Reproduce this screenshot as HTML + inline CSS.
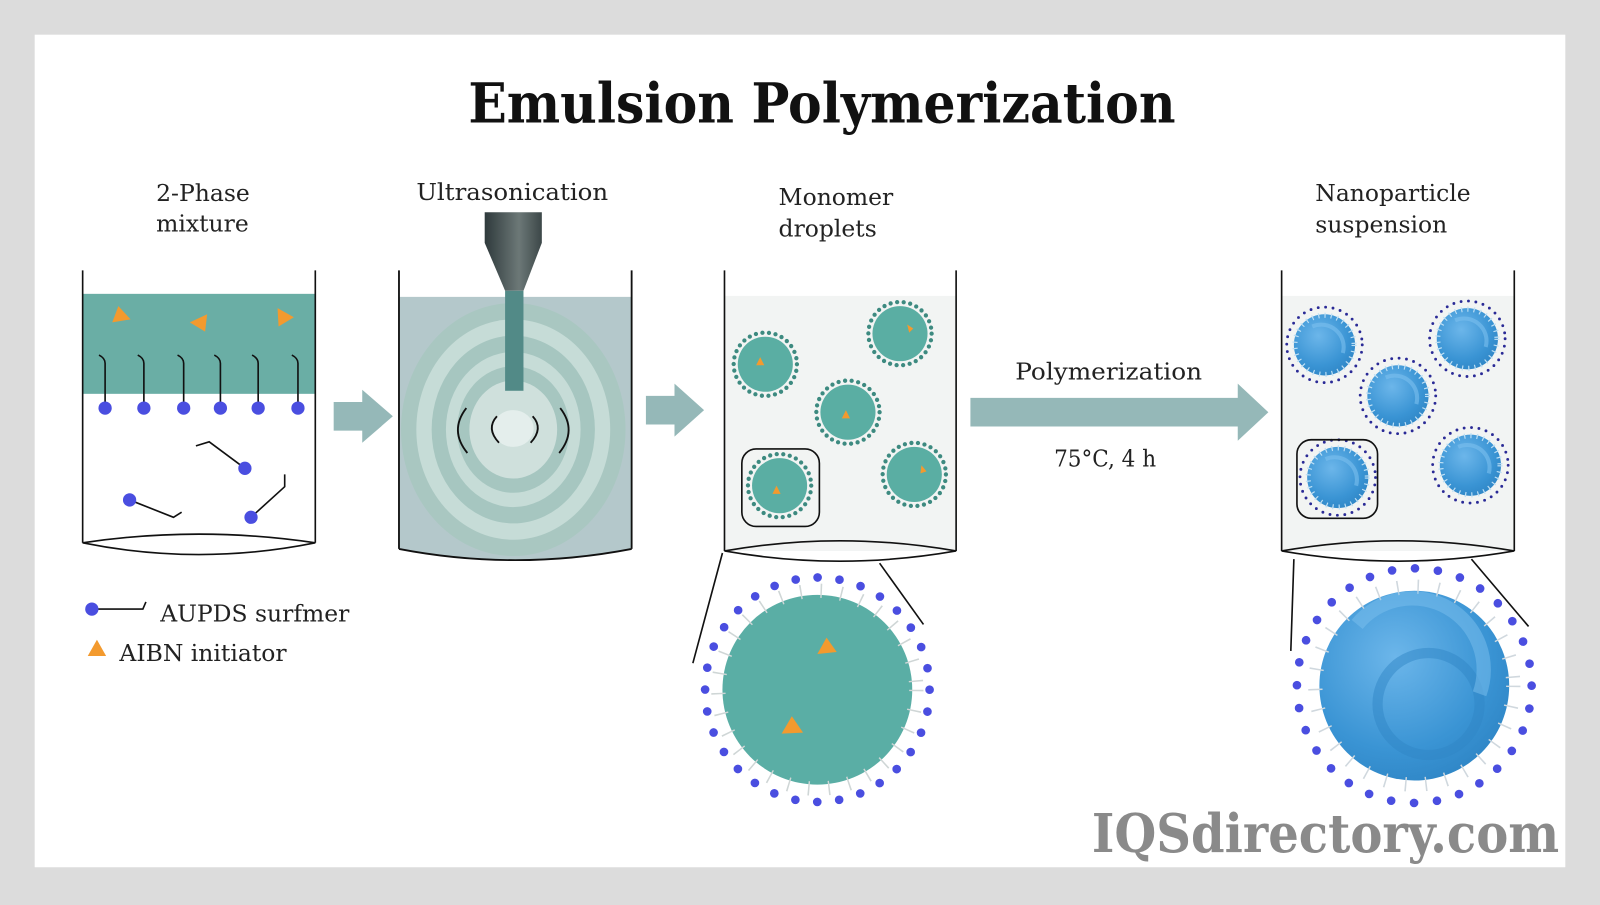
<!DOCTYPE html>
<html><head><meta charset="utf-8"><style>
html,body{margin:0;padding:0;background:#dcdcdc}
svg{display:block}
text{font-family:"DejaVu Serif","Liberation Serif",serif}
</style></head><body>
<svg width="1600" height="905" viewBox="0 0 1568 887" preserveAspectRatio="none" xmlns="http://www.w3.org/2000/svg">
<defs>
<linearGradient id="probe" x1="0" x2="1"><stop offset="0" stop-color="#2f3a3c"/><stop offset="0.6" stop-color="#6c7877"/><stop offset="1" stop-color="#3c4748"/></linearGradient>
<radialGradient id="blue" cx="0.4" cy="0.35" r="0.7"><stop offset="0" stop-color="#6cb6ea"/><stop offset="0.7" stop-color="#3a94d4"/><stop offset="1" stop-color="#2f86c6"/></radialGradient>
<g id="np">
<circle r="30" fill="url(#blue)"/>
<circle r="29" fill="none" stroke="#bfe0f5" stroke-width="5" stroke-dasharray="1.2 5"/>
<path d="M-12,-18 A22 22 0 0 1 18,8" fill="none" stroke="#7cc0ee" stroke-width="4" opacity="0.6"/>
<circle r="37" fill="none" stroke="#2a2a96" stroke-width="2.8" stroke-linecap="round" stroke-dasharray="0 7.3"/>
</g>
<g id="dr">
<circle r="27" fill="#5aaea3"/>
<circle r="31" fill="none" stroke="#3d8a80" stroke-width="4.2" stroke-linecap="round" stroke-dasharray="0 6.5"/>
</g>
</defs>
<rect x="0" y="0" width="1568" height="887" fill="#dcdcdc"/>
<rect x="34" y="34" width="1500" height="816" fill="#fff"/>
<text x="459" y="120" textLength="693" lengthAdjust="spacingAndGlyphs" font-size="54" font-weight="bold" fill="#111">Emulsion Polymerization</text>
<g font-size="23" fill="#222">
<text x="153" y="197">2-Phase</text><text x="153" y="227">mixture</text>
<text x="408" y="196" textLength="188" lengthAdjust="spacingAndGlyphs">Ultrasonication</text>
<text x="763" y="201">Monomer</text><text x="763" y="232">droplets</text>
<text x="1289" y="197">Nanoparticle</text><text x="1289" y="228">suspension</text>
<text x="995" y="372" textLength="183" lengthAdjust="spacingAndGlyphs">Polymerization</text>
<text x="1033" y="457" textLength="100" lengthAdjust="spacingAndGlyphs">75°C, 4 h</text>
<text x="157" y="609">AUPDS surfmer</text>
<text x="117" y="648">AIBN initiator</text>
</g>
<!-- beaker 1 -->
<rect x="81" y="288" width="228" height="98" fill="#6aaea5"/>
<g fill="#f39a2e">
<path d="M110,316 L128,313 L116,300Z"/><path d="M186,316 L203,308 L201,325Z"/><path d="M272,302 L288,311 L273,320Z"/>
</g>
<g stroke="#111" stroke-width="1.6" fill="none">
<path d="M97,348 q6,3 6,8 V398"/><path d="M135,348 q6,3 6,8 V398"/><path d="M174,348 q6,3 6,8 V398"/><path d="M210,348 q6,3 6,8 V398"/><path d="M247,348 q6,3 6,8 V398"/><path d="M286,348 q6,3 6,8 V398"/>
<path d="M240,459 L205,433 L192,437"/><path d="M127,490 L170,507 L178,502"/><path d="M246,507 L279,477 L279,465"/>
<path d="M90,597 L140,597 L143,590"/>
</g>
<g fill="#4a4ee0">
<circle cx="103" cy="400" r="6.5"/><circle cx="141" cy="400" r="6.5"/><circle cx="180" cy="400" r="6.5"/><circle cx="216" cy="400" r="6.5"/><circle cx="253" cy="400" r="6.5"/><circle cx="292" cy="400" r="6.5"/>
<circle cx="240" cy="459" r="6.5"/><circle cx="127" cy="490" r="6.5"/><circle cx="246" cy="507" r="6.5"/><circle cx="90" cy="597" r="6.5"/>
</g>
<path d="M95,627 L86,643 L104,643Z" fill="#f39a2e"/>
<g stroke="#111" stroke-width="1.6" fill="none">
<path d="M81,265 V532 M309,265 V532"/>
<path d="M81,532 Q195,515 309,532 Q195,555 81,532Z"/>
</g>
<!-- arrows -->
<g fill="#95b8b8">
<path d="M327,394 H355 V382 L385,408 L355,434 V422 H327Z"/>
<path d="M633,388 H661 V376 L690,402 L661,428 V416 H633Z"/>
<path d="M951,390 H1213 V376 L1243,404 L1213,432 V418 H951Z"/>
</g>
<!-- beaker 2 -->
<path d="M391,291 H619 V538 Q505,560 391,538Z" fill="#b4c8cb"/>
<ellipse cx="503" cy="421" rx="110" ry="124" fill="#a9c7c1"/>
<ellipse cx="503" cy="421" rx="95" ry="108" fill="#c6dcd7"/>
<ellipse cx="503" cy="421" rx="80" ry="92" fill="#a6c6c0"/>
<ellipse cx="503" cy="421" rx="66" ry="76" fill="#c6dcd7"/>
<ellipse cx="503" cy="421" rx="55" ry="62" fill="#a6c6c0"/>
<ellipse cx="503" cy="421" rx="43" ry="48" fill="#cfe0dc"/>
<ellipse cx="503" cy="420" rx="20" ry="18" fill="#e4eeec"/>
<path d="M475,208 H531 V238 L513,285 H495 L475,238Z" fill="url(#probe)"/>
<rect x="495" y="285" width="18" height="98" fill="#528a87"/>
<g stroke="#111" stroke-width="1.8" fill="none">
<path d="M457,400 Q440,422 458,444"/><path d="M549,400 Q566,422 548,444"/>
<path d="M487,408 Q476,420 489,434"/><path d="M522,408 Q533,420 520,434"/>
<path d="M391,265 V538 M619,265 V538 M391,538 Q505,560 619,538"/>
</g>
<!-- beaker 3 -->
<rect x="710" y="290" width="227" height="250" fill="#f2f4f3"/>
<use href="#dr" x="750" y="357"/><use href="#dr" x="882" y="327"/><use href="#dr" x="831" y="404"/><use href="#dr" x="764" y="476"/><use href="#dr" x="896" y="465"/>
<g fill="#f39a2e"><path d="M745,350 L741,358 L749,358Z"/><path d="M889,318 L895,322 L891,326Z"/><path d="M829,402 L825,410 L833,410Z"/><path d="M761,476 L757,484 L765,484Z"/><path d="M903,456 L908,462 L902,464Z"/></g>
<rect x="727" y="440" width="76" height="76" rx="14" fill="none" stroke="#111" stroke-width="1.6"/>
<g stroke="#111" stroke-width="1.6" fill="none">
<path d="M710,265 V540 M937,265 V540 M710,540 Q823,520 937,540 Q823,560 710,540Z"/>
<path d="M708,542 L679,650 M862,552 L905,612"/>
</g>
<circle cx="801" cy="676" r="93" fill="#5aaea5"/>
<circle cx="801" cy="676" r="97" fill="none" stroke="#cfd6d6" stroke-width="14" stroke-dasharray="1.5 18.5"/>
<circle cx="801" cy="676" r="110" fill="none" stroke="#4a4ee0" stroke-width="8.5" stroke-linecap="round" stroke-dasharray="0 21.6"/>
<g fill="#f39a2e"><path d="M810,625 L801,641 L820,639Z"/><path d="M776,702 L766,719 L787,718Z"/></g>
<!-- beaker 4 -->
<rect x="1256" y="290" width="228" height="250" fill="#f2f4f3"/>
<use href="#np" x="1298" y="338"/><use href="#np" x="1438" y="332"/><use href="#np" x="1370" y="388"/><use href="#np" x="1311" y="468"/><use href="#np" x="1441" y="456"/>
<rect x="1271" y="431" width="79" height="77" rx="14" fill="none" stroke="#111" stroke-width="1.6"/>
<g stroke="#111" stroke-width="1.6" fill="none">
<path d="M1256,265 V540 M1484,265 V540 M1256,540 Q1370,520 1484,540 Q1370,560 1256,540Z"/>
<path d="M1268,548 L1265,638 M1442,548 L1498,614"/>
</g>
<circle cx="1386" cy="672" r="93" fill="url(#blue)"/>
<circle cx="1386" cy="672" r="97" fill="none" stroke="#d0d8de" stroke-width="14" stroke-dasharray="1.5 18.5"/>
<circle cx="1400" cy="690" r="50" fill="none" stroke="#2f86c6" stroke-width="10" opacity="0.5"/>
<path d="M1330,612 A70 70 0 0 1 1450,680" fill="none" stroke="#7cc0ee" stroke-width="14" opacity="0.5"/>
<circle cx="1386" cy="672" r="115" fill="none" stroke="#4a4ee0" stroke-width="8.5" stroke-linecap="round" stroke-dasharray="0 22.6"/>
<text x="1070" y="835" textLength="458" lengthAdjust="spacingAndGlyphs" font-size="52" font-weight="bold" fill="#8a8a8a">IQSdirectory.com</text>
</svg>
</body></html>
